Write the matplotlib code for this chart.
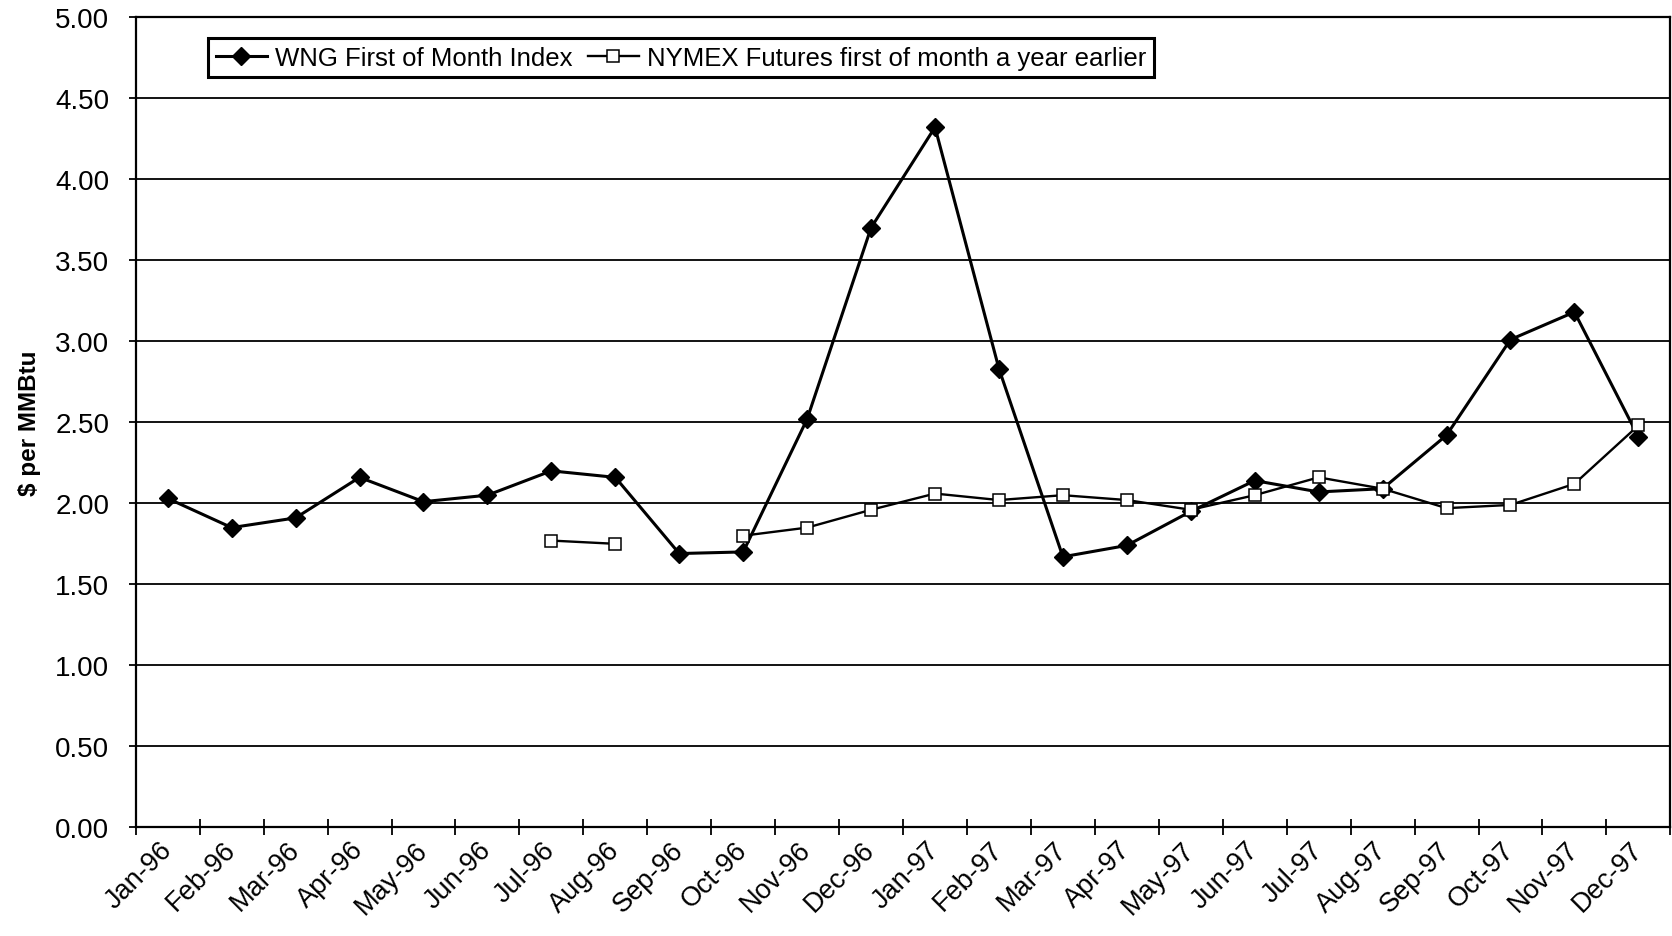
import matplotlib
matplotlib.use("Agg")
import matplotlib.pyplot as plt
import numpy as np

months = ["Jan-96", "Feb-96", "Mar-96", "Apr-96", "May-96", "Jun-96", "Jul-96", "Aug-96",
          "Sep-96", "Oct-96", "Nov-96", "Dec-96", "Jan-97", "Feb-97", "Mar-97", "Apr-97",
          "May-97", "Jun-97", "Jul-97", "Aug-97", "Sep-97", "Oct-97", "Nov-97", "Dec-97"]

wng = [2.03, 1.85, 1.91, 2.16, 2.01, 2.05, 2.20, 2.16, 1.69, 1.70, 2.52, 3.70,
       4.32, 2.83, 1.67, 1.74, 1.95, 2.14, 2.07, 2.09, 2.42, 3.01, 3.18, 2.41]

nymex = [None, None, None, None, None, None, 1.77, 1.75, None, 1.80, 1.85, 1.96,
         2.06, 2.02, 2.05, 2.02, 1.96, 2.05, 2.16, 2.09, 1.97, 1.99, 2.12, 2.48]

yticks = [0.0, 0.5, 1.0, 1.5, 2.0, 2.5, 3.0, 3.5, 4.0, 4.5, 5.0]

plt.rcParams['font.family'] = ['Liberation Sans', 'DejaVu Sans']

fig = plt.figure(figsize=(16.72, 9.37), dpi=100)
ax = fig.add_axes([0.0812, 0.1158, 0.9178, 0.865])

x = np.arange(len(months)) + 0.5
wng_arr = np.array(wng, dtype=float)
nym_arr = np.array([np.nan if v is None else v for v in nymex], dtype=float)

ax.plot(x, wng_arr, color='black', lw=2.2, marker='D', markersize=8.8,
        markerfacecolor='black', markeredgecolor='black', label='WNG First of Month Index',
        zorder=3)
ax.plot(x, nym_arr, color='black', lw=1.7, marker='s', markersize=8.5,
        markerfacecolor='white', markeredgecolor='black', markeredgewidth=1.1,
        label='NYMEX Futures first of month a year earlier', zorder=4)

ax.set_xlim(0, len(months))
ax.set_ylim(0, 5)
ax.set_yticks(yticks)
ax.set_yticklabels([f"{v:.2f}" for v in yticks], fontsize=20)
ax.yaxis.grid(True, color='black', lw=1.3)
ax.set_axisbelow(True)

ax.set_xticks(x)
ax.set_xticklabels(months, fontsize=19.5, rotation=45, ha='right', va='center',
                   rotation_mode='anchor')
ax.tick_params(axis='x', which='major', length=0, pad=13)
ax.set_xticks(np.arange(0, len(months) + 1), minor=True)
ax.tick_params(axis='x', which='minor', direction='inout', length=11, width=1.3, color='black')
ax.tick_params(axis='y', which='major', direction='out', length=5, width=1.3, pad=14)

for s in ax.spines.values():
    s.set_color('black')
    s.set_linewidth(1.6)

ax.set_ylabel("$ per MMBtu", fontsize=17.5, fontweight='bold')
ax.yaxis.set_label_coords(-0.062, 0.5)

leg = ax.legend(loc='upper left', bbox_to_anchor=(0.0471, 0.974), borderaxespad=0,
                ncol=2, fontsize=18.5, frameon=True, fancybox=False, framealpha=1,
                edgecolor='black', handlelength=2.0, handletextpad=0.3,
                columnspacing=0.6, borderpad=0.3)
leg.get_frame().set_linewidth(2.2)

fig.savefig("out.png", dpi=100)
